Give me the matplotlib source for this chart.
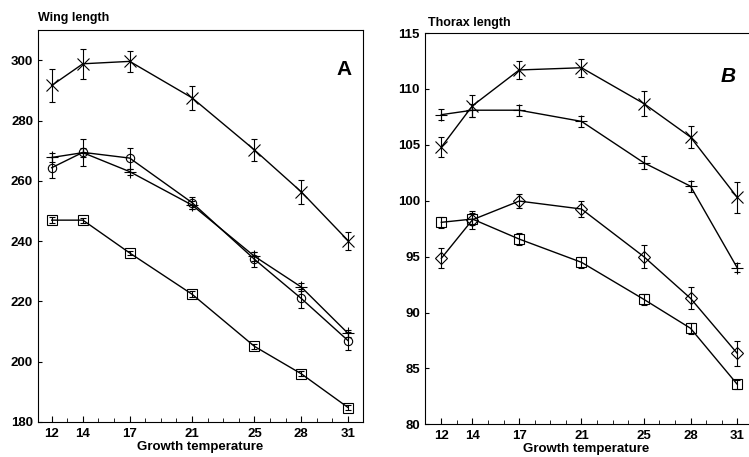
import matplotlib
matplotlib.use("Agg")
import matplotlib.pyplot as plt
import numpy as np

# temperaturas de crescimento
temps = [12, 14, 17, 21, 25, 28, 31]

# Painel A - comprimento da asa
asa_x = [291.7, 298.9, 299.7, 287.6, 270.3, 256.4, 240.2]
asa_x_err = [5.5, 5.0, 3.5, 4.0, 3.7, 4.0, 3.0]
asa_mais = [267.8, 269.4, 263.1, 252.0, 235.0, 224.8, 209.4]
asa_mais_err = [1.5, 1.5, 1.0, 1.2, 1.5, 1.2, 1.2]
asa_circ = [264.4, 269.5, 267.6, 252.8, 234.0, 221.0, 207.0]
asa_circ_err = [3.5, 4.5, 3.5, 2.0, 2.5, 3.0, 3.0]
asa_quad = [247.0, 247.0, 236.1, 222.4, 205.1, 196.0, 184.8]
asa_quad_err = [1.0, 0.8, 0.8, 1.0, 0.8, 0.8, 0.8]

# Painel B - comprimento do torax
tor_x = [104.8, 108.5, 111.7, 111.9, 108.7, 105.7, 100.3]
tor_x_err = [0.9, 1.0, 0.8, 0.8, 1.1, 1.0, 1.4]
tor_mais = [107.7, 108.1, 108.1, 107.1, 103.4, 101.3, 94.0]
tor_mais_err = [0.5, 0.6, 0.5, 0.5, 0.6, 0.5, 0.4]
tor_circ = [94.85, 98.3, 99.97, 99.26, 95.0, 91.27, 86.35]
tor_circ_err = [0.9, 0.8, 0.6, 0.7, 1.0, 1.0, 1.1]
tor_quad = [98.07, 98.36, 96.57, 94.49, 91.18, 88.59, 83.58]
tor_quad_err = [0.5, 0.5, 0.5, 0.5, 0.5, 0.5, 0.4]

plt.rcParams['font.family'] = ['Liberation Sans', 'DejaVu Sans']
plt.rcParams['font.weight'] = 'bold'

fig = plt.figure(figsize=(7.49, 4.57), dpi=100)
axA = fig.add_axes([0.0507, 0.0766, 0.434, 0.857])
axB = fig.add_axes([0.567, 0.0716, 0.431, 0.856])


def desenha(ax, series, circ_marker):
    estilos = [("x", 8), ("+", 9), (circ_marker, 6), ("s", 7)]
    for (vals, errs), (m, ms) in zip(series, estilos):
        ax.errorbar(temps, vals, yerr=errs, color="black", lw=1.0,
                    elinewidth=0.8, capsize=2, capthick=0.6,
                    marker=m, ms=ms, mfc="none", mec="black", mew=0.8)
    ax.set_xticks(temps)
    ax.set_xticks(np.arange(12, 32), minor=True)
    ax.tick_params(axis="both", which="both", direction="in", labelsize=9.5)
    ax.tick_params(axis="x", which="major", length=4, pad=4)
    ax.tick_params(axis="x", which="minor", length=3)
    ax.tick_params(axis="y", length=3)
    for lab in ax.get_xticklabels() + ax.get_yticklabels():
        lab.set_fontweight("bold")
    ax.set_xlabel("Growth temperature", fontsize=9.5, fontweight="bold", labelpad=1)


desenha(axA, [(asa_x, asa_x_err), (asa_mais, asa_mais_err),
              (asa_circ, asa_circ_err), (asa_quad, asa_quad_err)], "o")
axA.set_xlim(11.12, 31.96)
axA.set_ylim(180, 310)
axA.set_yticks([180, 200, 220, 240, 260, 280, 300])
axA.text(0.0, 1.015, "Wing length", transform=axA.transAxes, fontsize=9,
         fontweight="bold", ha="left", va="bottom")
axA.text(0.965, 0.9, "A", transform=axA.transAxes, fontsize=15,
         fontweight="bold", ha="right", va="center")

desenha(axB, [(tor_x, tor_x_err), (tor_mais, tor_mais_err),
              (tor_circ, tor_circ_err), (tor_quad, tor_quad_err)], "D")
axB.set_xlim(10.93, 31.66)
axB.set_ylim(80, 115)
axB.set_yticks([80, 85, 90, 95, 100, 105, 110, 115])
axB.spines["right"].set_visible(False)
axB.text(0.01, 1.01, "Thorax length", transform=axB.transAxes, fontsize=9,
         fontweight="bold", ha="left", va="bottom")
axB.text(0.965, 0.89, "B", transform=axB.transAxes, fontsize=15,
         fontweight="bold", fontstyle="italic", ha="right", va="center")

fig.savefig("out.png", dpi=100)
